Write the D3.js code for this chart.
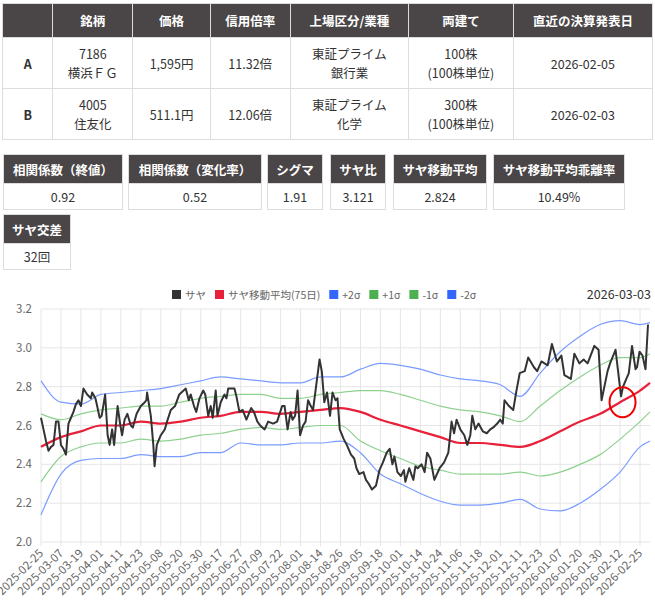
<!DOCTYPE html>
<html><head><meta charset="utf-8">
<script src="https://cdn.jsdelivr.net/npm/d3@7"></script>
<style>
body{margin:0;background:#fff;font-family:"Noto Sans CJK JP","Noto Sans",sans-serif;color:#333;width:655px;height:604px;overflow:hidden;position:relative}
table{border-collapse:collapse;position:absolute}
td,th{border:1px solid #ddd;text-align:center;font-size:12.5px;padding:0;line-height:19px}
th{background:#4a4546;color:#fff;font-weight:bold;border-color:#ddd}
#t1{left:2px;top:3px;width:651px}
#t1 th{height:33px}#t1 td{height:50px}
.box{position:absolute;top:0}
.stat th{height:28px;padding:0 6px}.stat td{height:25px}
svg{position:absolute;left:0;top:0}
</style></head><body>
<table id="t1"></table>
<div id="stats"></div>
<svg id="chart" width="655" height="604"></svg>
<script>
const headers=["","銘柄","価格","信用倍率","上場区分/業種","両建て","直近の決算発表日"];
const colW=[50,80,77,80,119,105,140];
const rowA=["A","7186<br>横浜ＦＧ","1,595円","11.32倍","東証プライム<br>銀行業","100株<br>(100株単位)","2026-02-05"];
const rowB=["B","4005<br>住友化","511.1円","12.06倍","東証プライム<br>化学","300株<br>(100株単位)","2026-02-03"];
const statNames=["相関係数（終値）","相関係数（変化率）","シグマ","サヤ比","サヤ移動平均","サヤ移動平均乖離率","サヤ交差"];
const statVals=["0.92","0.52","1.91","3.121","2.824","10.49%","32回"];

const tickLabels=["2025-02-25","2025-03-07","2025-03-19","2025-04-01","2025-04-11","2025-04-23","2025-05-08","2025-05-20","2025-05-30","2025-06-17","2025-06-27","2025-07-09","2025-07-22","2025-08-01","2025-08-14","2025-08-26","2025-09-05","2025-09-18","2025-10-01","2025-10-14","2025-10-24","2025-11-06","2025-11-18","2025-12-01","2025-12-11","2025-12-23","2026-01-07","2026-01-20","2026-01-30","2026-02-12","2026-02-25"];
const lastDate="2026-03-03";
const sayaDay=[0,1,2,3,4,5,6,7,8,9,10,11,12,13,14,15,16,17,18.5,20,20.5,21.8,22.5,23.5,24.3,25.7,26.7,27.5,28.5,29.3,30.7,31.8,32.5,33.5,34.6,36,36.8,38.3,40,41.6,42.2,42.5,44,45,45.5,46.4,48,49.6,50.5,52,53.7,55.4,58,59.2,60,61.3,62.2,63.5,65,65.8,67,68,68.8,70,70.7,72,73.5,74.3,75,77.5,78.3,79.5,80.8,82.3,84.2,85.3,86.7,87.8,89.6,91,93,94.6,96.6,97.6,98.8,100,100.8,101.8,102.8,103.8,105,106,107,108.1,109,110.2,111.6,112.5,113.5,114.6,115.8,116.8,118,118.8,119.7,121.3,122.5,124.2,125.5,126.4,127.5,129.2,130.2,131.3,132.6,134.2,135.6,137,138.5,139.7,140.8,141.6,142.8,144.2,145.4,146,147.5,149.2,150,150.9,152.5,153.7,154.7,156,157.6,159.7,161.5,163.2,164.5,165.5,166.5,168,169.6,170.8,172,172.8,174,175.3,177,178.6,180,181.2,182.8,184,185,185.7,187.5,189.2,190.5,191.8,193.8,195.2,197.5,198.8,200.5,203,204.7,206.7,208.5,209.7,212.3,213.7,215.7,217.4,219,220.2,221.7,223.4,224.6,227,228,230.2,232.4,233.2,235.5,236.8,238.2,238.8,239.8,241,242.2,243.2,244];
const saya=[2.64,2.58,2.52,2.47,2.49,2.50,2.62,2.62,2.50,2.48,2.45,2.61,2.64,2.67,2.71,2.73,2.70,2.79,2.76,2.74,2.77,2.74,2.70,2.64,2.65,2.76,2.55,2.50,2.58,2.50,2.70,2.60,2.55,2.63,2.66,2.60,2.59,2.66,2.70,2.72,2.73,2.77,2.65,2.50,2.39,2.50,2.55,2.58,2.62,2.68,2.70,2.76,2.79,2.73,2.76,2.70,2.67,2.74,2.78,2.76,2.65,2.70,2.64,2.78,2.65,2.72,2.76,2.74,2.79,2.79,2.75,2.67,2.68,2.63,2.69,2.67,2.62,2.60,2.58,2.62,2.61,2.62,2.70,2.70,2.58,2.67,2.63,2.65,2.78,2.55,2.60,2.62,2.73,2.70,2.68,2.80,2.94,2.88,2.72,2.77,2.65,2.77,2.73,2.74,2.58,2.53,2.50,2.45,2.43,2.38,2.35,2.36,2.32,2.30,2.27,2.29,2.37,2.41,2.46,2.48,2.40,2.44,2.36,2.34,2.37,2.31,2.38,2.32,2.39,2.38,2.40,2.36,2.46,2.43,2.32,2.38,2.41,2.46,2.62,2.56,2.63,2.58,2.55,2.50,2.55,2.65,2.58,2.61,2.57,2.56,2.58,2.59,2.61,2.63,2.61,2.73,2.70,2.68,2.78,2.87,2.88,2.95,2.90,2.88,2.93,2.91,3.02,2.93,2.96,2.86,2.84,2.97,2.92,2.94,2.92,2.96,3.01,2.99,2.73,2.88,2.92,2.99,2.75,2.80,2.87,3.01,2.89,2.90,2.98,2.96,2.89,3.12];
const bandDay=[0,8,16,24,32,40,48,56,64,72,80,88,96,104,112,120,128,136,144,152,160,168,176,184,192,200,208,216,224,232,240,244];
const ma=[2.49,2.54,2.57,2.60,2.60,2.62,2.61,2.62,2.64,2.65,2.67,2.67,2.66,2.67,2.68,2.69,2.67,2.63,2.60,2.57,2.54,2.51,2.51,2.50,2.49,2.52,2.57,2.62,2.66,2.72,2.78,2.82];
const p1=[2.66,2.63,2.66,2.68,2.69,2.70,2.70,2.72,2.74,2.75,2.76,2.76,2.74,2.74,2.76,2.77,2.78,2.78,2.76,2.73,2.70,2.68,2.67,2.65,2.62,2.70,2.78,2.85,2.91,2.95,2.95,2.97];
const m1=[2.31,2.44,2.49,2.51,2.51,2.53,2.52,2.53,2.55,2.56,2.58,2.59,2.58,2.59,2.60,2.60,2.52,2.47,2.43,2.39,2.37,2.35,2.35,2.35,2.36,2.34,2.36,2.40,2.45,2.53,2.62,2.67];
const p2=[2.83,2.72,2.71,2.76,2.77,2.78,2.79,2.81,2.83,2.85,2.84,2.83,2.82,2.82,2.85,2.85,2.89,2.92,2.91,2.89,2.86,2.84,2.83,2.81,2.75,2.87,2.98,3.06,3.12,3.14,3.12,3.13];
const m2=[2.14,2.35,2.42,2.43,2.43,2.45,2.44,2.44,2.46,2.46,2.51,2.50,2.50,2.51,2.51,2.52,2.46,2.35,2.30,2.25,2.21,2.19,2.19,2.20,2.22,2.17,2.16,2.20,2.27,2.36,2.49,2.52];
const yTicks=[2.0,2.2,2.4,2.6,2.8,3.0,3.2];
const legend=[["サヤ","#333"],["サヤ移動平均(75日)","#e8203a"],["+2σ","#3366ff"],["+1σ","#4caf50"],["-1σ","#4caf50"],["-2σ","#3366ff"]];

const t1=d3.select("#t1");
t1.append("tr").selectAll("th").data(headers).join("th").style("width",(d,i)=>colW[i]+"px").text(d=>d);
[rowA,rowB].forEach(r=>t1.append("tr").selectAll("td").data(r).join("td").style("font-weight",(d,i)=>i==0?"bold":null).html(d=>d));
const lefts=[3,128,267,330,393,493,3],tops=[154,154,154,154,154,154,214],widths=[120,134,56,56,94,132,68];
statNames.forEach((n,i)=>{
  const t=d3.select("#stats").append("table").attr("class","stat").style("left",lefts[i]+"px").style("top",tops[i]+"px").style("width",widths[i]+"px");
  t.append("tr").append("th").text(n);t.append("tr").append("td").text(statVals[i]);
});

const svg=d3.select("#chart");
const x=d3.scaleLinear().domain([0,244]).range([41,650]);
const y=d3.scaleLinear().domain([2.0,3.2]).range([542,309]);
const g=svg.append("g");
g.selectAll(".hg").data(yTicks).join("line").attr("x1",41).attr("x2",650).attr("y1",d=>y(d)).attr("y2",d=>y(d)).attr("stroke","#e6e6e6");
g.selectAll(".vg").data(tickLabels).join("line").attr("x1",(d,i)=>x(i*8)).attr("x2",(d,i)=>x(i*8)).attr("y1",309).attr("y2",546).attr("stroke","#e6e6e6");
g.selectAll(".yl").data(yTicks).join("text").attr("x",32).attr("y",d=>y(d)+4).attr("text-anchor","end").attr("font-size",11.5).attr("fill","#666").text(d=>d.toFixed(1));
g.selectAll(".xl").data(tickLabels).join("text").attr("transform",(d,i)=>`translate(${x(i*8)+3},${554}) rotate(-45)`).attr("text-anchor","end").attr("font-size",11.5).attr("fill","#666").text(d=>d);
const bl=d3.line().x((d,i)=>x(bandDay[i])).y(d=>y(d)).curve(d3.curveMonotoneX);
[[m2,"#7a9cff",1.2],[p2,"#7a9cff",1.2],[m1,"#8fd18f",1.2],[p1,"#8fd18f",1.2],[ma,"#e8203a",2.2]].forEach(([a,c,w])=>g.append("path").attr("d",bl(a)).attr("fill","none").attr("stroke",c).attr("stroke-width",w));
const sl=d3.line().x((d,i)=>x(sayaDay[i])).y(d=>y(d));
g.append("path").attr("d",sl(saya)).attr("fill","none").attr("stroke","#333").attr("stroke-width",2).attr("stroke-linejoin","round");
g.append("ellipse").attr("cx",x(233)).attr("cy",y(2.72)).attr("rx",13).attr("ry",15).attr("fill","none").attr("stroke","#e00").attr("stroke-width",2);
let lx=172;
const lg=svg.append("g").attr("font-size",10.5).attr("fill","#666");
legend.forEach(([t,c])=>{
  lg.append("rect").attr("x",lx).attr("y",290).attr("width",9).attr("height",9).attr("fill",c);
  const tx=lg.append("text").attr("x",lx+13).attr("y",298.5).text(t);
  lx+=13+tx.node().getComputedTextLength()+9;
});
svg.append("text").attr("x",651).attr("y",299).attr("text-anchor","end").attr("font-size",12.5).attr("fill","#333").text(lastDate);
</script></body></html>
